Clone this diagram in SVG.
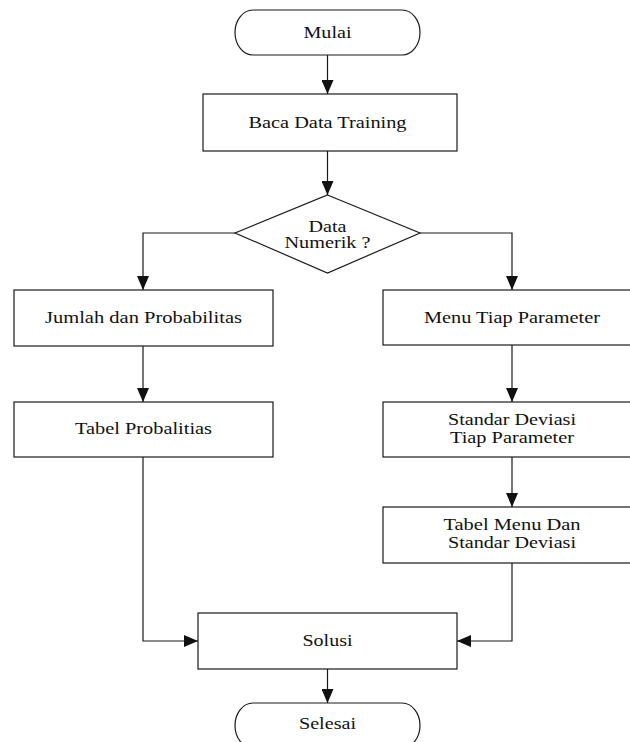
<svg xmlns="http://www.w3.org/2000/svg" width="630" height="742" viewBox="0 0 630 742">
<style>
.s{fill:#fff;stroke:#1a1a1a;stroke-width:1.2}
.t{font-family:"Liberation Serif","Times New Roman",serif;font-size:16px;fill:#111;text-anchor:middle}
.c{fill:none;stroke:#1a1a1a;stroke-width:1.2}
</style>
<defs>
<marker id="ah" markerUnits="userSpaceOnUse" markerWidth="14" markerHeight="12" refX="14" refY="6" orient="auto">
<path d="M0,0 L14,6 L0,12 z" fill="#111"/>
</marker>
</defs>
<g id="connectors">
<path class="c" d="M327.5,55 V94" marker-end="url(#ah)"/>
<path class="c" d="M327.5,151 V195" marker-end="url(#ah)"/>
<path class="c" d="M235,233 H143 V290" marker-end="url(#ah)"/>
<path class="c" d="M420,233 H512 V290" marker-end="url(#ah)"/>
<path class="c" d="M143,346 V402" marker-end="url(#ah)"/>
<path class="c" d="M143,457 V641 H198" marker-end="url(#ah)"/>
<path class="c" d="M512,345 V402" marker-end="url(#ah)"/>
<path class="c" d="M512,457 V507" marker-end="url(#ah)"/>
<path class="c" d="M512,563 V641 H457" marker-end="url(#ah)"/>
<path class="c" d="M327.5,669 V703" marker-end="url(#ah)"/>
</g>
<g id="mulai">
<rect class="s" x="235" y="10" width="185" height="45" rx="18" ry="22.5"/>
<text class="t" x="327.5" y="38" textLength="48" lengthAdjust="spacingAndGlyphs">Mulai</text>
</g>
<g id="baca">
<rect class="s" x="203" y="94" width="254" height="57"/>
<text class="t" x="327.5" y="128" textLength="158" lengthAdjust="spacingAndGlyphs">Baca Data Training</text>
</g>
<g id="decision">
<polygon class="s" points="327.5,195 420,233 327.5,273 235,233"/>
<text class="t" x="327.5" y="232" textLength="38" lengthAdjust="spacingAndGlyphs">Data</text>
<text class="t" x="327.5" y="248" textLength="86" lengthAdjust="spacingAndGlyphs">Numerik ?</text>
</g>
<g id="jumlah">
<rect class="s" x="14" y="290" width="259" height="56"/>
<text class="t" x="143.5" y="323" textLength="197" lengthAdjust="spacingAndGlyphs">Jumlah dan Probabilitas</text>
</g>
<g id="tabel-prob">
<rect class="s" x="14" y="402" width="259" height="55"/>
<text class="t" x="143.5" y="434" textLength="137" lengthAdjust="spacingAndGlyphs">Tabel Probalitias</text>
</g>
<g id="menu">
<rect class="s" x="383" y="290" width="260" height="55"/>
<text class="t" x="512" y="323" textLength="176" lengthAdjust="spacingAndGlyphs">Menu Tiap Parameter</text>
</g>
<g id="standar">
<rect class="s" x="383" y="402" width="260" height="55"/>
<text class="t" x="512" y="425" textLength="128" lengthAdjust="spacingAndGlyphs">Standar Deviasi</text>
<text class="t" x="512" y="443" textLength="124" lengthAdjust="spacingAndGlyphs">Tiap Parameter</text>
</g>
<g id="tabel-menu">
<rect class="s" x="383" y="507" width="260" height="56"/>
<text class="t" x="512" y="530" textLength="137" lengthAdjust="spacingAndGlyphs">Tabel Menu Dan</text>
<text class="t" x="512" y="548" textLength="128" lengthAdjust="spacingAndGlyphs">Standar Deviasi</text>
</g>
<g id="solusi">
<rect class="s" x="198" y="613" width="259" height="56"/>
<text class="t" x="327.5" y="646" textLength="50" lengthAdjust="spacingAndGlyphs">Solusi</text>
</g>
<g id="selesai">
<rect class="s" x="235" y="703" width="185" height="45" rx="18" ry="22.5"/>
<text class="t" x="327.5" y="729" textLength="57" lengthAdjust="spacingAndGlyphs">Selesai</text>
</g>
</svg>
